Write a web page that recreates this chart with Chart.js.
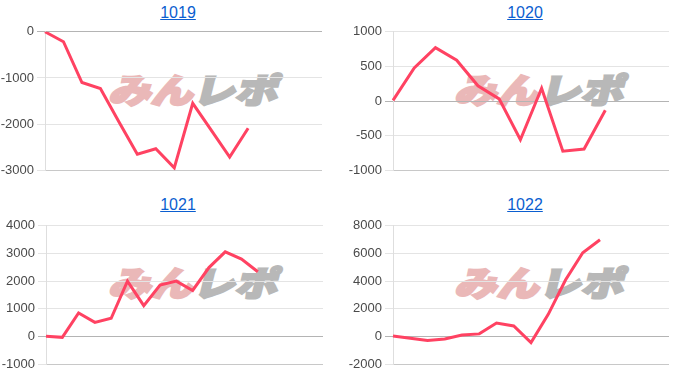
<!DOCTYPE html>
<html>
<head>
<meta charset="utf-8">
<script src="https://cdn.jsdelivr.net/npm/chart.js@4"></script>
<style>
  body { margin: 0; background: #fff; width: 700px; height: 386px; position: relative; overflow: hidden; font-family: Arial, "Liberation Sans", sans-serif; }
  .title { position: absolute; width: 356px; text-align: center; font-size: 16px; line-height: 18px; }
  .title a { color: #0b5ed0; text-decoration: underline; }
  .wm { position: absolute; font-family: "Noto Sans CJK JP", sans-serif; font-weight: 900; font-size: 34px; line-height: 34px; white-space: nowrap; transform: skewX(-14deg) scaleX(1.24); transform-origin: left top; }
  .wm .a { color: rgb(234, 184, 184); -webkit-text-stroke: 2.5px rgb(234, 184, 184); }
  .wm .b { color: rgb(184, 184, 184); -webkit-text-stroke: 2.5px rgb(184, 184, 184); }
  canvas { position: absolute; }
</style>
</head>
<body>
<div class="title" style="left:0;top:4px"><a href="#">1019</a></div>
<div class="title" style="left:347px;top:4px"><a href="#">1020</a></div>
<div class="title" style="left:0;top:196px"><a href="#">1021</a></div>
<div class="title" style="left:347px;top:196px"><a href="#">1022</a></div>

<div class="wm" style="left:116px;top:72px"><span class="a">みん</span><span class="b">レポ</span></div>
<div class="wm" style="left:462px;top:72px"><span class="a">みん</span><span class="b">レポ</span></div>
<div class="wm" style="left:116px;top:265px"><span class="a">みん</span><span class="b">レポ</span></div>
<div class="wm" style="left:462px;top:265px"><span class="a">みん</span><span class="b">レポ</span></div>

<canvas id="c1019" width="322" height="160" style="left:0;top:21px"></canvas>
<canvas id="c1020" width="321" height="160" style="left:348px;top:21px"></canvas>
<canvas id="c1021" width="322" height="160" style="left:1px;top:215px"></canvas>
<canvas id="c1022" width="321" height="160" style="left:348px;top:215px"></canvas>

<script>
// 가로축 라벨 (화면에는 안 보임)
const labels1019 = ['1','2','3','4','5','6','7','8','9','10','11','12','13','14','15','16'];
const labels1020 = ['1','2','3','4','5','6','7','8','9','10','11','12','13','14'];
const labels1021 = ['1','2','3','4','5','6','7','8','9','10','11','12','13','14','15','16','17','18'];
const labels1022 = ['1','2','3','4','5','6','7','8','9','10','11','12','13','14','15','16','17'];

// 차트 데이터
const values1019 = [0, -215, -1100, -1230, -1950, -2655, -2535, -2950, -1550, -2130, -2715, -2090];
const values1020 = [10, 477, 770, 590, 220, 30, -560, 185, -725, -695, -135];
const values1021 = [10, -30, 850, 510, 660, 2000, 1115, 1860, 2000, 1665, 2490, 3060, 2800, 2340];
const values1022 = [40, -130, -290, -175, 115, 190, 980, 765, -440, 1600, 4080, 6050, 6990];

const ticks1019 = { min: -3000, max: 0, step: 1000 };
const ticks1020 = { min: -1000, max: 1000, step: 500 };
const ticks1021 = { min: -1000, max: 4000, step: 1000 };
const ticks1022 = { min: -2000, max: 8000, step: 2000 };

function makeChart(id, labels, values, t, axisWidth) {
    const ctx = document.getElementById(id).getContext('2d');
    return new Chart(ctx, {
        type: 'line',
        data: {
            labels: labels,
            datasets: [{
                data: values,
                borderColor: '#ff4262',
                borderWidth: 3,
                pointRadius: 0,
                tension: 0,
                fill: false
            }]
        },
        options: {
            responsive: false,
            animation: false,
            layout: { padding: 0 },
            plugins: { legend: { display: false }, tooltip: { enabled: false } },
            scales: {
                x: {
                    grid: { display: false, drawTicks: false },
                    ticks: { display: false },
                    border: { color: '#c8c8c8' }
                },
                y: {
                    min: t.min,
                    max: t.max,
                    afterFit: scale => { scale.width = axisWidth; },
                    ticks: {
                        stepSize: t.step,
                        color: '#4a4a4a',
                        padding: 3,
                        font: { family: 'Arial', size: 13 },
                        callback: v => String(v) // 콤마 없이
                    },
                    grid: {
                        // 0 라인은 진하게
                        color: c => (c.tick && c.tick.value === 0) ? '#b4b4b4' : '#e4e4e4',
                        tickLength: 8
                    },
                    border: { color: '#dedede' }
                }
            }
        }
    });
}

makeChart('c1019', labels1019, values1019, ticks1019, 45);
makeChart('c1020', labels1020, values1020, ticks1020, 45);
makeChart('c1021', labels1021, values1021, ticks1021, 45);
makeChart('c1022', labels1022, values1022, ticks1022, 45);
</script>
</body>
</html>
